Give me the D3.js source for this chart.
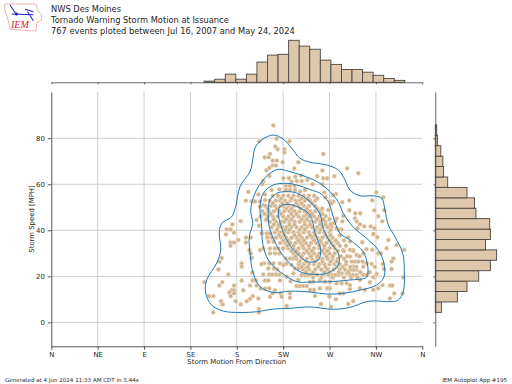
<!DOCTYPE html>
<html>
<head>
<meta charset="utf-8">
<title>Tornado Warning Storm Motion</title>
<style>
    html,body{margin:0;padding:0;background:#fff;}
    svg{display:block;}
    text{font-family:"DejaVu Sans";fill:#262626;}
</style>
</head>
<body>
<script src="https://cdn.jsdelivr.net/npm/d3@7"></script>
<script>
// compass labels on the direction axis
var dirTicks=[0,45,90,135,180,225,270,315,360];
var dirLabels=["N","NE","E","SE","S","SW","W","NW","N"];
var speedTicks=[0,20,40,60,80];

// marginal histograms
var dirBinStart=148.3, dirBinWidth=10.25;
var dirCounts=[3,8,21,8,21,52,70,72,108,93,85,57,46,33,33,26,18,10,5];
var speedBinStart=4.35, speedBinWidth=4.525;
var speedCounts=[9,32,46,63,80,89,73,80,79,59,57,46,18,12,11,8,3,2];

// warnings outside the dense core: [direction, speed]
var outerPoints=[
[215.4,85.6],[218.7,79.8],[201.9,78.7],[231,78.7],[217.4,76.4],[219.7,75.2],[226.1,75.2],[226.1,73.8],[212.2,73.2],[210.9,71.7],
[207,71.7],[214.8,70.3],[218.7,70.3],[224.5,69.6],[239.7,69.6],[214.8,68.2],[218,68.2],[211.6,67.1],[208.7,66.1],[235.8,66.9],
[211.6,63.6],[225.2,62.6],[230.6,62.6],[236.8,63.3],[242.3,63.8],[205.7,61.4],[233.2,61.1],[238.1,61.4],[243,61.4],[248.4,61.9],
[205,60.1],[191.2,56.7],[200.9,55.6],[207.4,55.6],[213.8,57.5],[221.3,57.8],[227.7,59.3],[231.6,59.3],[227.7,57.5],[231.6,57.5],
[236.1,59.3],[236.5,57.5],[241.3,56.8],[246.2,57.5],[188.9,52.9],[194.4,52.5],[197.7,52.5],[202.5,52.5],[207.4,53.2],[205.7,51],
[202.5,50.3],[183.8,44],[175.7,42.6],[170.2,40.4],[174,40.4],[177.3,39],[169.5,38.2],[181.5,35.8],[174,34.7],[177.3,34.7],
[174,33.3],[188.9,36.9],[193.5,36.9],[188.9,34.7],[192.2,31.4],[193.5,30],[194.4,28],[165.3,28],[163,26.3],[184.7,25.6],
[184.7,24.2],[162.1,23],[195.1,21.7],[171.8,20.8],[148.5,17.5],[163,16],[166,17.5],[184.7,18.2],[177.3,16],[175,14],
[177.3,14],[172.8,13],[177.3,12.6],[174,11.4],[186.3,14],[192.8,16],[195.4,18.2],[198.6,18.2],[199.3,16],[203.2,14.7],
[207.4,18.2],[210.6,18.2],[221.9,18.2],[228.4,19.8],[232.3,17.9],[195.4,11.4],[192.8,10.1],[189.6,9.2],[200.9,10.4],[178.9,9.2],
[183.8,7.8],[164.7,9.2],[166.3,7.8],[153,11.4],[157.2,11.4],[157.2,4.3],[201.5,5.8],[201.5,4.3],[211.6,14.7],[212.2,11.1],
[214.8,12.6],[222.6,12.6],[223.5,11.1],[231.6,12.6],[231.6,10.7],[228.4,7.1],[207.4,14.7],[217,14],[238.1,15.8],[241.3,15.8],
[244.6,15.8],[247.8,15.8],[251,17.6],[199.3,44.5],[201.5,42],[208.3,44.5],[204.1,38.7],[209,38.7],[212.2,38.7],[209.6,36.9],
[213.8,36.9],[210.6,35],[215.5,35],[220.3,32.1],[217,32.1],[212.2,32.1],[205.7,32.1],[202.5,31.4],[212.2,30],[217,30],
[221.3,30],[206.4,25.6],[204.1,25.3],[211.6,25.6],[215.5,25.6],[221.9,25.6],[225.2,24.9],[210.6,23.4],[216.1,23.4],[219.3,23],
[228.4,25.6],[205.7,20.8],[211.6,20.8],[214.8,20.8],[218,20.8],[221.3,20.8],[227.7,27.8],[231.6,27.8],[234.9,27.8],[233.2,24.9],
[236.5,23.4],[239.7,23.4],[242.9,20.5],[246.2,20.5],[249.4,20.5],[246.2,23.4],[234.9,21.3],[239.7,18.4],[263.9,73.2],[287.2,66.9],
[297.9,64.8],[263,66],[258.1,63.5],[263.9,62.6],[267.8,62.6],[274.6,63.5],[263.3,60],[253.6,60],[264.9,56.5],[276.2,55.8],
[273.6,55.3],[265.9,54.3],[315.4,56.5],[322.1,54.3],[311.5,53],[289.2,53],[282.4,52.2],[273.6,52.4],[270.4,52.4],[271.4,51.7],
[268.8,48.8],[266.2,46.2],[289.2,48.7],[313.4,48.7],[323.1,48.7],[295,47.4],[299.8,47.4],[283.3,46.2],[317.3,46.1],[276.9,45],
[294.7,45.2],[296.3,43.9],[321.2,43.9],[282.4,43.9],[275.3,43.8],[299.5,42.6],[303.7,41.7],[309.9,41.7],[297.2,40.9],[313.7,40.9],
[272,41.6],[276.9,40.9],[273.6,43],[312.4,38.4],[281.7,40.4],[288.2,37],[289.8,35.1],[301.8,34.8],[316.3,37],[327,35.8],
[335.1,33.6],[342.5,31.5],[325.4,32.2],[317.3,30],[319.9,30],[311.5,31.5],[306,31.8],[302.7,30],[293,31.5],[289.8,31.5],
[283.3,31.5],[296.3,29.3],[289.8,28.6],[294.7,26.4],[297.9,26.4],[291.4,26.4],[331.9,27.8],[330.2,26.4],[330.2,23.2],[321.5,25.4],
[322.8,23.2],[310.8,25.4],[306,25.7],[302.7,24.2],[293,24.2],[296.3,22.8],[293,22.8],[315.7,21],[312.4,19.6],[309.2,17.4],
[299.5,18.4],[286.6,21.3],[281.7,21.3],[278.5,20.6],[275.3,20.6],[272,20.6],[268.8,20.6],[289.8,20.6],[293,20.6],[296.3,20.6],
[302.7,20.6],[306,20.6],[341.6,19.6],[321.5,16.2],[317.3,14.8],[312.4,14.1],[304.4,14.1],[328.6,16],[330.9,16],[299.5,14.8],
[289.8,14.5],[283.3,12.6],[280.1,12.6],[270.4,14.8],[267.8,14.8],[260.7,14.8],[254.9,14.1],[251,14.1],[276.9,17],[286.6,17],
[289.8,16.2],[281.7,17],[270.4,17.7],[265.5,17.7],[260.7,18.4],[254.2,17.7],[255.9,11.5],[269.8,11.2],[276.2,10],[293,9.3],
[288.2,8],[328.6,10.4],[332.8,12.6],[340.9,12.6],[261.7,8],[271.4,6.8]];

// dense core read row by row: speed, then directions in that row
var coreSpeeds=[55,52.9,50.6,48.3,46,43.7,41.4,39.1,36.8,34.5,32.2,29.9,27.6,25.3,23,20.7,
    53.8,51.7,49.4,47.1,44.8,42.5,40.2,37.9,35.6,33.3,31,28.7,26.4,24.1,21.8,19.5];
var coreDirs=[
[215,220,225,230,235,240,245,250,255],
[212,218,222,227,232,237,241,246,251,256],
[208,213,217,222,225,230,235,240,245,250,256],
[205,211,216,221,226,231,236,241,246,251,256,261],
[203,210,215,220,225,230,235,240,245,250,255,260],
[212,218,223,226,231,236,241,246,251,256,261,266],
[214,220,224,228,233,238,243,248,253,258,263,268],
[217,222,226,230,235,240,245,250,255,260,265,270],
[218,223,228,233,238,243,248,253,258,263,268,273],
[222,227,232,237,242,247,252,257,262,267,272,278],
[225,230,235,240,245,250,255,260,265,270,275],
[235,240,245,250,255,260,265,270,275],
[238,243,248,253,258,263,268,273,278,284],
[240,245,250,255,260,265,270,275,280,286],
[244,250,256,262,268,274,280,285,290],
[252,258,264],
[223,233,243,249,258],
[215,224,229,238,243,253],
[210,219,228,233,242,248,258,263],
[207,213,223,233,238,248,253,263],
[209,216,228,233,243,248,258,264,270],
[216,221,231,236,246,251,261,266,271],
[219,227,231,241,246,256,261,271,279],
[221,226,236,241,251,256,266,271,280],
[225,230,240,245,255,261,270,276,284],
[229,235,244,250,260,265,274,280,286],
[233,238,248,253,263,268,278,284,293],
[237,243,252,258,267,273,281,287,299],
[241,247,256,263,271,277,286,302],
[243,249,259,266,277,283,290,296,314],
[247,254,265,270,279,288,300,309],
[254,262,273,284,291,297]];

// density contours, outermost first
var contour1=[[215.4,81.4],[204.2,79.3],[197.6,75.7],[195.4,70.6],[192.8,65.5],[183.1,59],[178.9,50.3],[175,45.9],[165.3,43],[163,38.8],[164.4,31.4],[160.5,25.8],[150.8,18.4],[149.8,12.7],[155.6,7.5],[166.9,4.9],[183.1,4.3],[199.3,4.6],[215.4,5.8],[231.6,6.1],[251,6.7],[273.6,5.7],[289.8,6.5],[306,9],[315.7,9.3],[328.6,9],[336.7,9.7],[341.5,13.3],[342.5,22.7],[341,30],[333.5,37.2],[327,42.3],[323.8,48.8],[320.6,53.9],[312.4,55],[299.5,55],[289.8,57.5],[285,61.9],[278.5,66.2],[267.2,68.4],[251,69.6],[241.3,71.3],[233.3,75.7],[225.1,79.6]];
var contour2=[[220.3,66.5],[212.2,64.8],[204.2,61.1],[197.6,56.1],[193.5,48.8],[195.4,43],[192.1,37.2],[192.8,30],[196,21.3],[202.5,15.5],[215.4,13],[231.6,13.6],[251,13.2],[267.2,12.3],[283.3,12.6],[299.5,14],[315.7,16.2],[322.8,19.8],[322.8,25.7],[317.3,31.4],[306,36.5],[293,41.4],[283.3,47.4],[278.5,52.4],[270.4,56.8],[260.7,60.4],[251,62.6],[231.6,65.5]];
var contour3=[[228.4,60.4],[215.4,59.7],[205.7,56.1],[202.5,50.1],[204.2,41.6],[205.1,34.3],[210.6,27.1],[221.9,22],[238.1,17.7],[251,17.5],[270.4,17.7],[289.8,18.4],[306,19.6],[307.3,22.3],[306.6,25.7],[302.7,30.7],[289.8,35.8],[280.1,38.7],[273.6,45.8],[268.8,52.4],[260.7,56.1],[251,57.7],[238.1,59.7]];
var contour4=[[228.4,56.8],[218.7,56.1],[212.2,53.2],[210.6,48.8],[211.5,41.6],[219.3,32.9],[228.4,27.1],[241.3,22],[251,21],[267.2,21.3],[278.5,24.9],[278.5,30],[270.4,35],[263.9,40.9],[260.7,47.1],[251,52.4],[238.1,56.2]];
var contour5=[[230,51.3],[221.9,50.3],[220.3,46.7],[221.2,44.5],[228.4,35.8],[238.1,30],[249.4,26.3],[259.1,27.1],[261.4,31.4],[255.9,38.8],[251,46.7],[241.3,49.7]];

var titleLines=["NWS Des Moines","Tornado Warning Storm Motion at Issuance","767 events ploted between Jul 16, 2007 and May 24, 2024"];

var barFill="#dfc7ab", barStroke="#4a4540", axisColor="#444", gridColor="#c8c8c8";

var svg=d3.select("body").append("svg").attr("width",512).attr("height",384);

var x=d3.scaleLinear().domain([0,360]).range([51.3,422.3]);
var y=d3.scaleLinear().domain([-10.4,100.1]).range([346.3,92]);
var topY=d3.scaleLinear().domain([0,108]).range([82.3,40.3]);
var rightX=d3.scaleLinear().domain([0,89]).range([435.3,496.6]);

// grid first so the points sit on top
var xAxis=svg.append("g").attr("transform","translate(0,346.3)")
    .call(d3.axisBottom(x).tickValues(dirTicks).tickFormat(function(d,i){return dirLabels[i];}).tickSize(3.5).tickSizeOuter(0).tickPadding(2));
var yAxis=svg.append("g").attr("transform","translate(51.3,0)")
    .call(d3.axisLeft(y).tickValues(speedTicks).tickSize(3.5).tickSizeOuter(0).tickPadding(3));

svg.insert("g",":first-child").selectAll("line").data(dirTicks.slice(1,8)).join("line")
    .attr("x1",function(d){return x(d);}).attr("x2",function(d){return x(d);})
    .attr("y1",92).attr("y2",346.3)
    .attr("stroke",gridColor).attr("stroke-width",0.9);
svg.insert("g",":first-child").selectAll("line").data(speedTicks).join("line")
    .attr("x1",51.3).attr("x2",422.3)
    .attr("y1",function(d){return y(d);}).attr("y2",function(d){return y(d);})
    .attr("stroke",gridColor).attr("stroke-width",0.9);

[xAxis,yAxis].forEach(function(a){
    a.selectAll("path,line").attr("stroke",axisColor).attr("stroke-width",0.9);
    a.selectAll("text").attr("font-size",6.9).attr("font-family","DejaVu Sans").attr("fill","#262626");
});

// scatter
var allPoints=outerPoints.slice();
coreSpeeds.forEach(function(s,i){
    coreDirs[i].forEach(function(d){allPoints.push([d,s]);});
});
svg.append("g").selectAll("circle").data(allPoints).join("circle")
    .attr("cx",function(d){return x(d[0]);})
    .attr("cy",function(d){return y(d[1]);})
    .attr("r",2.2)
    .attr("fill","#d2b48c")
    .attr("stroke","#f3eadf")
    .attr("stroke-width",0.5);

// contours
var contourLine=d3.line()
    .x(function(d){return x(d[0]);})
    .y(function(d){return y(d[1]);})
    .curve(d3.curveCatmullRomClosed.alpha(0.5));
svg.append("g").selectAll("path").data([contour1,contour2,contour3,contour4,contour5]).join("path")
    .attr("d",contourLine)
    .attr("fill","none")
    .attr("stroke","#1f77b4")
    .attr("stroke-width",1);

// top histogram
svg.append("g").selectAll("rect").data(dirCounts).join("rect")
    .attr("x",function(d,i){return x(dirBinStart+i*dirBinWidth);})
    .attr("width",x(dirBinWidth)-x(0))
    .attr("y",function(d){return topY(d);})
    .attr("height",function(d){return topY(0)-topY(d);})
    .attr("fill",barFill).attr("stroke",barStroke).attr("stroke-width",0.9);
var topAxis=svg.append("g").attr("transform","translate(0,82.3)")
    .call(d3.axisBottom(x).tickValues(dirTicks).tickFormat("").tickSize(2).tickSizeOuter(0));
topAxis.selectAll("path,line").attr("stroke",axisColor).attr("stroke-width",0.8);

// right histogram
svg.append("g").selectAll("rect").data(speedCounts).join("rect")
    .attr("y",function(d,i){return y(speedBinStart+(i+1)*speedBinWidth);})
    .attr("height",y(0)-y(speedBinWidth))
    .attr("x",rightX(0))
    .attr("width",function(d){return rightX(d)-rightX(0);})
    .attr("fill",barFill).attr("stroke",barStroke).attr("stroke-width",0.9);
var rightAxis=svg.append("g").attr("transform","translate(435.3,0)")
    .call(d3.axisLeft(y).tickValues(speedTicks).tickFormat("").tickSize(2).tickSizeOuter(0));
rightAxis.selectAll("path,line").attr("stroke",axisColor).attr("stroke-width",0.8);

// labels
svg.append("text").attr("x",236.8).attr("y",364).attr("text-anchor","middle").attr("font-size",6.9).text("Storm Motion From Direction");
svg.append("text").attr("transform","translate(33.5,219) rotate(-90)").attr("text-anchor","middle").attr("font-size",6.9).text("Storm Speed [MPH]");
svg.append("g").selectAll("text").data(titleLines).join("text")
    .attr("x",51).attr("y",function(d,i){return 12+i*10.8;})
    .attr("font-size",8.3).text(function(d){return d;});
svg.append("text").attr("x",5).attr("y",381.5).attr("font-size",5.55).text("Generated at 4 Jun 2024 11:33 AM CDT in 3.44s");
svg.append("text").attr("x",507).attr("y",381.5).attr("text-anchor","end").attr("font-size",5.55).text("IEM Autoplot App #195");

// IEM logo
var logo=svg.append("g");
logo.append("path")
    .attr("d","M4.7,4 L36,4 L37.7,10.7 L41.7,15 L41.7,20 L36.7,23 L36,31 L10,29.3 L8.3,20.7 L4.7,10 Z")
    .attr("fill","#fff").attr("stroke","#e8a0a0").attr("stroke-width",0.8);
logo.append("path")
    .attr("d","M10,5 L16,14 M11.7,14 L33.3,14.7 M25,9.3 L33.3,11.7 M27.5,11.5 L33.3,20.7")
    .attr("fill","none").attr("stroke","#2222cc").attr("stroke-width",1.1);
logo.append("circle").attr("cx",16.5).attr("cy",14).attr("r",1.6).attr("fill","#2222cc");
logo.append("text").attr("x",11).attr("y",28.3)
    .attr("font-size",10).attr("font-style","italic")
    .style("font-family","Liberation Serif").style("fill","#d62020").text("IEM");
</script>
</body>
</html>
